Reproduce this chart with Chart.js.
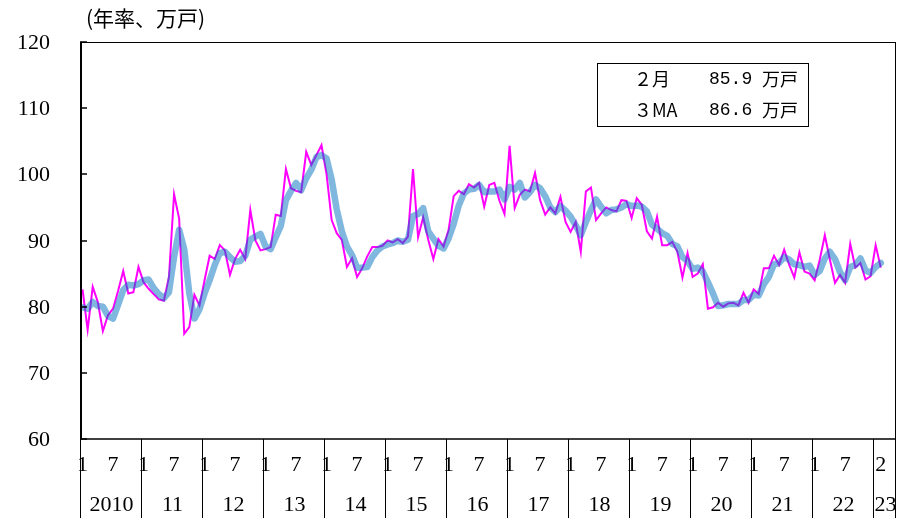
<!DOCTYPE html>
<html><head><meta charset="utf-8">
<script src="https://cdn.jsdelivr.net/npm/chart.js@4/dist/chart.umd.min.js"></script>
<style>html,body{margin:0;padding:0;background:#fff}#wrap{width:899px;height:520px;position:relative}</style>
</head><body><div id="wrap"><canvas id="c" width="899" height="520"></canvas></div>
<script>
// Monthly housing starts (annualized, 10k units), Jan 2010 - Feb 2023
const monthly = [
  82.6, 76.5, 83.0, 80.7, 76.3, 78.7, 79.7, 82.4, 85.4, 82.0, 82.2, 86.0,
  83.7, 82.7, 81.9, 81.1, 80.9, 84.5, 97.0, 93.3, 75.9, 76.9, 81.8, 80.2,
  84.0, 87.7, 87.2, 89.3, 88.5, 84.8, 87.2, 88.6, 87.2, 94.6, 90.0, 88.5,
  88.7, 89.0, 93.9, 93.7, 100.8, 97.9, 97.5, 97.3, 103.4, 101.4, 102.9, 104.4,
  100.0, 93.1, 91.1, 90.1, 86.0, 87.3, 84.5, 85.8, 87.6, 89.0, 89.0, 89.2,
  90.0, 89.7, 90.2, 89.6, 90.6, 100.8, 90.5, 93.5, 90.1, 87.2, 90.2, 89.1,
  91.6, 96.7, 97.5, 97.0, 98.5, 98.0, 98.7, 95.1, 98.4, 98.7, 96.0, 94.0,
  104.3, 94.9, 96.9, 97.7, 97.4, 100.2, 96.1, 93.9, 95.0, 94.1, 96.6, 92.8,
  91.3, 92.8, 88.3, 97.4, 98.0, 93.1, 94.1, 95.0, 94.6, 94.4, 96.1, 96.0,
  93.4, 96.4, 95.4, 91.4, 90.3, 93.6, 89.3, 89.3, 89.8, 88.3, 84.4, 88.1,
  84.5, 85.0, 86.4, 79.7, 79.9, 80.6, 80.0, 80.5, 80.6, 80.2, 82.1, 80.6,
  82.6, 81.9, 85.8, 85.8, 87.7, 86.3, 88.6, 86.3, 84.4, 88.2, 85.3, 85.0,
  84.0, 87.1, 90.8, 87.1, 83.6, 84.8, 83.6, 89.5, 85.9, 86.6, 84.1, 84.6,
  89.3, 85.9
];
// 3-month moving average
const ma3 = [
  79.9, 79.7, 80.7, 80.1, 80.0, 78.6, 78.2, 80.3, 82.5, 83.3, 83.2, 83.4,
  84.0, 84.1, 82.8, 81.9, 81.3, 82.2, 87.5, 91.6, 88.7, 82.0, 78.2, 79.6,
  82.0, 84.0, 86.3, 88.1, 88.3, 87.5, 86.8, 86.9, 87.7, 90.1, 90.6, 91.0,
  89.1, 88.7, 90.5, 92.2, 96.1, 97.5, 98.7, 97.6, 99.4, 100.7, 102.6, 102.9,
  102.4, 99.2, 94.7, 91.4, 89.1, 87.8, 85.9, 85.9, 86.0, 87.5, 88.5, 89.1,
  89.4, 89.6, 90.0, 89.8, 90.1, 93.7, 94.0, 94.9, 91.4, 90.3, 89.2, 88.8,
  90.3, 92.5, 95.3, 97.1, 97.7, 97.8, 98.4, 97.3, 97.4, 97.4, 97.7, 96.2,
  98.1, 97.7, 98.7, 96.5, 97.3, 98.4, 97.9, 96.7, 95.0, 94.3, 95.2, 94.5,
  93.6, 92.3, 90.8, 92.8, 94.6, 96.2, 95.1, 94.1, 94.6, 94.7, 95.0, 95.5,
  95.2, 95.3, 95.1, 94.4, 92.4, 91.8, 91.1, 90.7, 89.5, 89.1, 87.5, 86.9,
  85.7, 85.9, 85.3, 83.7, 82.0, 80.1, 80.2, 80.4, 80.4, 80.4, 81.0, 81.0,
  81.8, 81.7, 83.4, 84.5, 86.4, 86.6, 87.5, 87.1, 86.4, 86.3, 86.0, 86.2,
  84.8, 85.4, 87.3, 88.3, 87.2, 85.2, 84.0, 86.0, 86.3, 87.3, 85.5, 85.1,
  86.0, 86.6
];
const yearLabels = ['2010','11','12','13','14','15','16','17','18','19','20','21','22','23'];
const yTicks = [60, 70, 80, 90, 100, 110, 120];
const unitLabel = '(年率、万戸)';
const boxLabels = ['２月', '３MA'];
const boxUnit = '万戸';

const months = monthly.map((_, i) => (i % 12) + 1);

const axisPlugin = {
  id: 'axes',
  afterDraw(chart) {
    const ctx = chart.ctx, a = chart.chartArea, xs = chart.scales.x, ys = chart.scales.y;
    const bottomEnd = 518;
    ctx.save();
    ctx.strokeStyle = '#000';
    // top & right border
    ctx.lineWidth = 1;
    ctx.beginPath();
    ctx.moveTo(a.left, a.top + 0.5); ctx.lineTo(a.right, a.top + 0.5);
    ctx.moveTo(a.right - 0.5, a.top); ctx.lineTo(a.right - 0.5, bottomEnd);
    ctx.stroke();
    // left axis
    ctx.lineWidth = 2;
    ctx.beginPath();
    ctx.moveTo(a.left + 1, a.top); ctx.lineTo(a.left + 1, a.bottom + 1);
    ctx.stroke();
    // bottom axis
    ctx.lineWidth = 1.5;
    ctx.beginPath();
    ctx.moveTo(a.left, a.bottom); ctx.lineTo(a.right, a.bottom);
    ctx.stroke();
    // y ticks and labels
    ctx.font = '22px "Liberation Serif", "DejaVu Serif", serif';
    ctx.fillStyle = '#000';
    ctx.textAlign = 'right';
    ctx.textBaseline = 'middle';
    ctx.lineWidth = 1.5;
    yTicks.forEach(v => {
      const y = Math.round(ys.getPixelForValue(v));
      ctx.beginPath(); ctx.moveTo(a.left, y); ctx.lineTo(a.left + 7, y); ctx.stroke();
      ctx.fillText(String(v), 50, y + 1);
    });
    // year separators
    ctx.lineWidth = 1;
    const nYears = yearLabels.length;
    const bounds = [];
    for (let k = 0; k < nYears; k++) bounds.push(xs.getPixelForValue(12 * k - 0.5));
    bounds.push(a.right);
    bounds.slice(0, nYears).forEach(x => {
      const xx = Math.round(x) + 0.5;
      ctx.beginPath(); ctx.moveTo(xx, a.bottom); ctx.lineTo(xx, bottomEnd); ctx.stroke();
    });
    // month labels (final partial year shows only its last month)
    ctx.textAlign = 'center';
    const lastYearStart = 12 * (nYears - 1);
    months.forEach((m, i) => {
      const isLast = i === months.length - 1;
      const show = isLast || (i < lastYearStart && (m === 1 || m === 7));
      if (show) ctx.fillText(String(m), xs.getPixelForValue(i), 465);
    });
    // year labels
    yearLabels.forEach((lab, k) => {
      ctx.fillText(lab, (bounds[k] + bounds[k + 1]) / 2 + 1, 505);
    });
    // unit title
    ctx.font = '21px "Noto Sans CJK JP", sans-serif';
    ctx.textAlign = 'left';
    ctx.fillText(unitLabel, 86, 18);
    // value box
    ctx.fillStyle = '#fff';
    ctx.fillRect(597, 63, 211, 63);
    ctx.strokeStyle = '#000';
    ctx.lineWidth = 1;
    ctx.strokeRect(597.5, 63.5, 211, 63);
    ctx.fillStyle = '#000';
    const vals = [monthly[monthly.length - 1], ma3[ma3.length - 1]];
    const rowsY = [79, 110];
    boxLabels.forEach((lab, r) => {
      ctx.font = '18px "Noto Sans CJK JP", sans-serif';
      ctx.textAlign = 'left';
      ctx.fillText(lab, 634, rowsY[r]);
      ctx.font = '18px "Liberation Mono", "DejaVu Sans Mono", monospace';
      ctx.fillText(vals[r].toFixed(1), 709, rowsY[r]);
      ctx.font = '18px "Noto Sans CJK JP", sans-serif';
      ctx.fillText(boxUnit, 762, rowsY[r]);
    });
    ctx.restore();
  }
};

new Chart(document.getElementById('c'), {
  type: 'line',
  data: {
    datasets: [
      {
        label: '3MA',
        data: ma3.map((v, i) => ({ x: i, y: v })),
        borderColor: 'rgba(0,112,192,0.5)',
        borderWidth: 6.5,
        borderJoinStyle: 'round',
        borderCapStyle: 'round',
        pointRadius: 0,
        tension: 0,
        order: 0
      },
      {
        label: '月次',
        data: monthly.map((v, i) => ({ x: i, y: v })),
        borderColor: '#FF00FF',
        borderWidth: 2,
        borderJoinStyle: 'miter',
        pointRadius: 0,
        tension: 0,
        order: 1
      }
    ]
  },
  options: {
    responsive: false,
    animation: false,
    devicePixelRatio: 1,
    layout: { padding: { left: 80, right: 3, top: 42, bottom: 81 } },
    plugins: { legend: { display: false }, tooltip: { enabled: false } },
    scales: {
      x: { type: 'linear', min: -0.5, max: 160, display: false },
      y: { min: 60, max: 120, display: false }
    }
  },
  plugins: [axisPlugin]
});
</script>
</body></html>
